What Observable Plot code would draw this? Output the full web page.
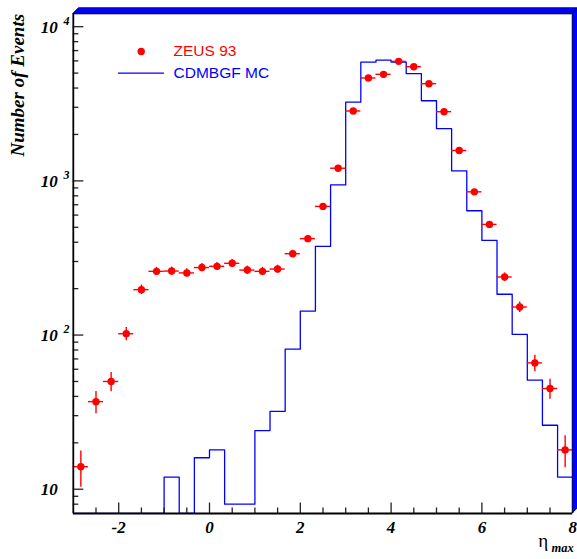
<!DOCTYPE html>
<html><head><meta charset="utf-8">
<script src="https://cdn.jsdelivr.net/npm/d3@7"></script>
<script src="https://cdn.jsdelivr.net/npm/@observablehq/plot@0.6"></script>
<style>html,body{margin:0;padding:0;background:#fff;} #chart{width:577px;height:559px;}</style>
</head><body><div id="chart"></div>
<script>
// ---- data ----
const binEdges = [-3, -2.667, -2.333, -2, -1.667, -1.333, -1, -0.667, -0.333, 0, 0.333, 0.667, 1, 1.333, 1.667, 2, 2.333, 2.667, 3, 3.333, 3.667, 4, 4.333, 4.667, 5, 5.333, 5.667, 6, 6.333, 6.667, 7, 7.333, 7.667, 8];
const zeusCounts = [14, 37, 50, 102, 197, 259, 260, 253, 274, 279, 292, 264, 259, 268, 337, 422, 683, 1208, 2840, 4650, 4910, 5960, 5500, 4270, 2810, 1574, 849, 522, 238, 152, 66, 45, 18];
const zeusErrors = [3.7, 6.1, 7.1, 10, 14, 16, 16, 16, 17, 17, 17, 16, 16, 16, 18, 21, 26, 35, 53, 68, 70, 77, 74, 65, 53, 40, 29, 23, 15, 12, 8.1, 6.7, 4.2];
const mcCounts = [0, 0, 0, 0, 0, 0, 12, 0, 16, 18, 8, 8, 24, 32, 81, 143, 376, 942, 3240, 5890, 6070, 5900, 4960, 3310, 2180, 1160, 640, 411, 184, 101, 51, 26, 12];
const xDomain = [-3, 8];
const yDomain = [6.96, 12124];
const xMajorTicks = [-2, 0, 2, 4, 6, 8];
const xTickLabels = ["-2", "0", "2", "4", "6", "8"];
const xMinorTicks = [-2.5, -1.5, -1, -0.5, 0.5, 1, 1.5, 2.5, 3, 3.5, 4.5, 5, 5.5, 6.5, 7, 7.5];
const yMajorTicks = [10, 100, 1000, 10000];
const yTickBase = ["10", "10", "10", "10"];
const yTickExp = ["", "2", "3", "4"];
const yMinorTicks = [8, 9, 20, 30, 40, 50, 60, 70, 80, 90, 200, 300, 400, 500, 600, 700, 800, 900, 2000, 3000, 4000, 5000, 6000, 7000, 8000, 9000];
const legendLabels = ["ZEUS 93", "CDMBGF MC"];
const yTitle = "Number of Events";
const xTitleMain = "η";
const xTitleSub = "max";

// ---- layout ----
const W = 577, H = 559;
const mL = 72.8, mR = 4.8, mT = 13.3, mB = 46;
const innerW = W - mL - mR, innerH = H - mT - mB;
const serif = "Liberation Serif, Times New Roman, serif";
const sans = "Liberation Sans, Arial, sans-serif";

const zeus = zeusCounts.map((v, i) => ({lo: binEdges[i], hi: binEdges[i + 1], c: (binEdges[i] + binEdges[i + 1]) / 2, v, e: zeusErrors[i]}));
const mcSteps = binEdges.map((x, i) => {
  const v = mcCounts[Math.min(i, mcCounts.length - 1)];
  return {x, v: v > 0 ? v : yDomain[0]};
});

const lab = {fontFamily: serif, fontWeight: "bold", fontStyle: "italic"};

const plot = Plot.plot({
  width: W, height: H,
  marginLeft: mL, marginRight: mR, marginTop: mT, marginBottom: mB,
  style: {background: "#fff"},
  x: {domain: xDomain, axis: null},
  y: {type: "log", domain: yDomain, axis: null},
  marks: [
    // MC histogram
    Plot.line(mcSteps, {x: "x", y: "v", curve: "step-after", stroke: "#0000ff", strokeWidth: 1.3, clip: true}),
    // ZEUS data with error bars
    Plot.ruleY(zeus, {y: "v", x1: "lo", x2: "hi", stroke: "#ff0000", strokeWidth: 1.4}),
    Plot.ruleX(zeus, {x: "c", y1: d => d.v - d.e, y2: d => d.v + d.e, stroke: "#ff0000", strokeWidth: 1.4}),
    Plot.dot(zeus, {x: "c", y: "v", r: 3.7, fill: "#ff0000", stroke: null}),
    // ticks (inward)
    Plot.tickX(xMajorTicks, {x: d => d, insetTop: innerH - 10.5, stroke: "#222", strokeWidth: 1.3}),
    Plot.tickX(xMinorTicks, {x: d => d, insetTop: innerH - 5.5, stroke: "#222", strokeWidth: 1.3}),
    Plot.tickY(yMajorTicks, {y: d => d, insetRight: innerW - 10.5, stroke: "#222", strokeWidth: 1.3}),
    Plot.tickY(yMinorTicks, {y: d => d, insetRight: innerW - 5.5, stroke: "#222", strokeWidth: 1.3}),
    // axis lines
    Plot.ruleX([xDomain[0]], {x: d => d, stroke: "#000", strokeWidth: 1.8}),
    Plot.ruleY([yDomain[0]], {y: d => d, stroke: "#000", strokeWidth: 1.8}),
    Plot.ruleX([xDomain[1]], {x: d => d, stroke: "#000", strokeWidth: 1}),
    Plot.ruleY([yDomain[1]], {y: d => d, stroke: "#000", strokeWidth: 1}),
    // tick labels
    Plot.text(xMajorTicks, {x: d => d, text: (d, i) => xTickLabels[i], frameAnchor: "bottom", dy: 19.7, lineAnchor: "bottom", fontSize: 17, fill: "#000", ...lab}),
    Plot.text(yMajorTicks, {y: d => d, text: (d, i) => yTickBase[i], frameAnchor: "left", dx: -15.5, dy: 0.5, textAnchor: "end", lineAnchor: "middle", fontSize: 17, fill: "#000", ...lab}),
    Plot.text(yMajorTicks, {y: d => d, text: (d, i) => yTickExp[i], frameAnchor: "left", dx: -9.8, dy: -6, textAnchor: "start", lineAnchor: "middle", fontSize: 12, fill: "#000", ...lab}),
    // axis titles
    Plot.text([yTitle], {frameAnchor: "top-left", dx: 23.3 - mL, dy: 84.7 - mT, rotate: -90, textAnchor: "middle", lineAnchor: "bottom", fontSize: 19, fill: "#000", ...lab}),
    Plot.text([xTitleMain], {frameAnchor: "bottom-right", dx: -24.5, dy: 33, textAnchor: "end", lineAnchor: "bottom", fontSize: 19, fill: "#000", fontFamily: serif}),
    Plot.text([xTitleSub], {frameAnchor: "bottom-right", dx: 1.1, dy: 38, textAnchor: "end", lineAnchor: "bottom", fontSize: 12.5, fill: "#000", ...lab}),
    // legend
    Plot.dot([legendLabels[0]], {frameAnchor: "top-left", dx: 140.7 - mL, dy: 51 - mT, r: 3.7, fill: "#ff0000", stroke: null}),
    Plot.vector([legendLabels[1]], {frameAnchor: "top-left", dx: 118 - mL, dy: 72.7 - mT, length: 45, rotate: 90, anchor: "start", r: 0, stroke: "#0000ff", strokeWidth: 1.3}),
    Plot.text([legendLabels[0]], {frameAnchor: "top-left", dx: 173 - mL, dy: 55.7 - mT, textAnchor: "start", lineAnchor: "bottom", fontSize: 15.5, fontFamily: sans, fill: "#ff0000", letterSpacing: "0.4px"}),
    Plot.text([legendLabels[1]], {frameAnchor: "top-left", dx: 173 - mL, dy: 77.7 - mT, textAnchor: "start", lineAnchor: "bottom", fontSize: 15.5, fontFamily: sans, fill: "#0000ff"})
  ]
});

// raised blue frame border (top and right)
const svg = d3.select(plot);
const xL = mL, xR = W - mR, yT = mT, yB = H - mB, b = 5.6;
svg.append("polygon")
  .attr("points", [[xL, yT], [xL + b, yT - b], [xR + b, yT - b], [xR + b, yB - b], [xR, yB], [xR, yT]].map(p => p.join(",")).join(" "))
  .attr("fill", "#0000ff").attr("stroke", "#000033").attr("stroke-width", 0.8);
svg.append("line").attr("x1", xR).attr("y1", yT).attr("x2", xR + b).attr("y2", yT - b).attr("stroke", "#000033").attr("stroke-width", 0.8);

document.getElementById("chart").appendChild(plot);
</script>
</body></html>
